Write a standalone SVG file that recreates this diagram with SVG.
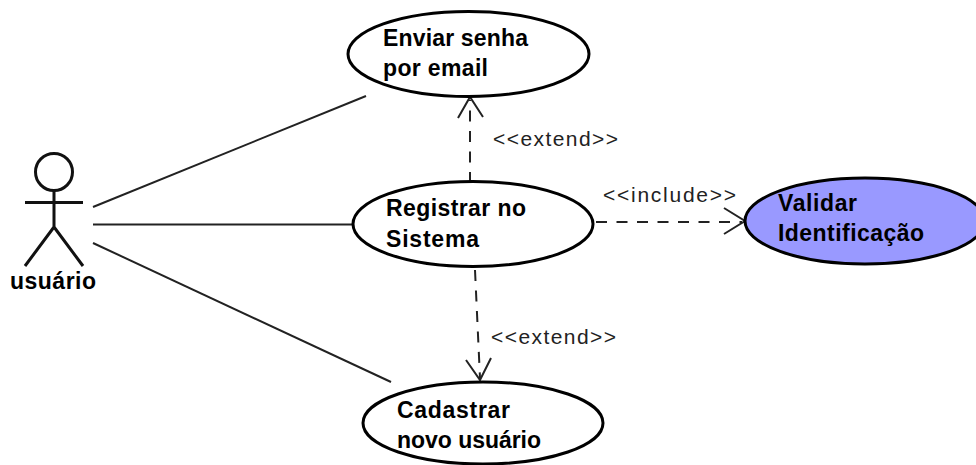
<svg xmlns="http://www.w3.org/2000/svg" width="976" height="465" viewBox="0 0 976 465">
<style>
.uc{fill:#fff;stroke:#000;stroke-width:3}
.t{font-family:"Liberation Sans",Arial,sans-serif;font-size:23px;font-weight:bold;fill:#000}
.s{font-family:"Liberation Sans",Arial,sans-serif;font-size:21px;fill:#222}
.a{fill:none;stroke:#222;stroke-width:2}
.d{fill:none;stroke:#222;stroke-width:2;stroke-dasharray:11 9.500}
.h{fill:none;stroke:#222;stroke-width:2}
.act{fill:none;stroke:#111;stroke-width:3}
</style>
<rect width="976" height="465" fill="#fff"/>
<g id="connectors">
<path class="a" d="M93 207L366 96"/>
<path class="a" d="M93 224.500H354"/>
<path class="a" d="M93 243L391 382"/>
<path class="d" d="M470 183V100"/>
<path class="h" d="M458 118L470 97L483 117"/>
<path class="d" d="M475 270L480 378"/>
<path class="h" d="M466 360L480 380L491 358"/>
<path class="d" d="M596 222H742"/>
<path class="h" d="M724 208L745 221L724 234"/>
<text class="s" x="493" y="146" textLength="125">&lt;&lt;extend&gt;&gt;</text>
<text class="s" x="491" y="344" textLength="125">&lt;&lt;extend&gt;&gt;</text>
<text class="s" x="603" y="202" textLength="133">&lt;&lt;include&gt;&gt;</text>
</g>
<g id="actor">
<circle class="act" cx="54" cy="172" r="18.500"/>
<path class="act" d="M54 191V227M25 202.500H83M54 227L25 266M54 227L83 266"/>
<text class="t" x="10" y="289" textLength="86">usuário</text>
</g>
<g id="enviar">
<ellipse class="uc" cx="468.500" cy="54" rx="120.500" ry="42.500"/>
<text class="t" x="383" y="46" textLength="145">Enviar senha</text>
<text class="t" x="383" y="76" textLength="105">por email</text>
</g>
<g id="registrar">
<ellipse class="uc" cx="473" cy="224" rx="120" ry="42.500"/>
<text class="t" x="386" y="216" textLength="140">Registrar no</text>
<text class="t" x="386" y="247" textLength="93">Sistema</text>
</g>
<g id="cadastrar">
<ellipse class="uc" cx="483" cy="423" rx="120" ry="41"/>
<text class="t" x="397" y="418" textLength="113">Cadastrar</text>
<text class="t" x="397" y="448" textLength="144">novo usuário</text>
</g>
<g id="validar">
<ellipse cx="865" cy="221" rx="120" ry="43" fill="#9999ff" stroke="#000" stroke-width="3"/>
<text class="t" x="778" y="211" textLength="79">Validar</text>
<text class="t" x="778" y="241" textLength="146">Identificação</text>
</g>
</svg>
